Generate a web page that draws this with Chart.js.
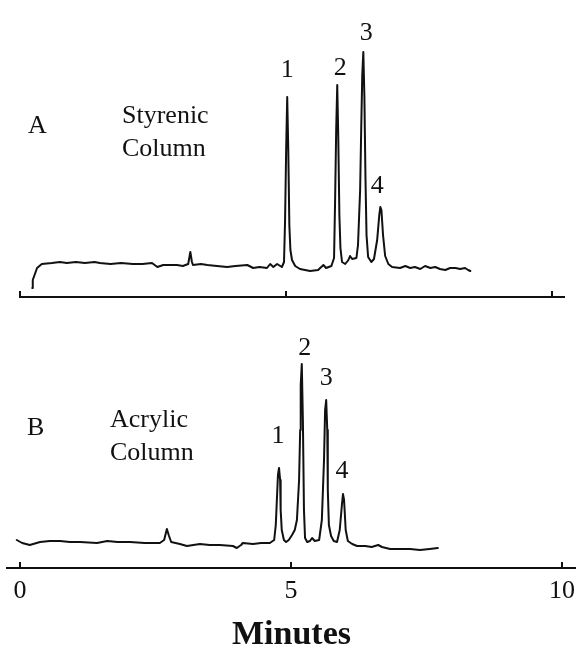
<!DOCTYPE html>
<html>
<head>
<meta charset="utf-8">
<script src="https://cdn.jsdelivr.net/npm/chart.js@4.4.1/dist/chart.umd.min.js"></script>
<style>
  body { margin: 0; background: #fff; }
  #wrap { position: relative; width: 576px; height: 658px; }
  canvas { position: absolute; left: 0; }
</style>
</head>
<body>
<div id="wrap">
  <canvas id="chartA" width="576" height="310" style="top:0"></canvas>
  <canvas id="chartB" width="576" height="348" style="top:310px"></canvas>
</div>
<script>
// retention time (min) / detector response (arb. units)
const timeA = [0.23, 0.24, 0.32, 0.41, 0.60, 0.75, 0.88, 1.05, 1.22, 1.40, 1.50, 1.70, 1.90, 2.12, 2.30, 2.48,
  2.58, 2.69, 2.95, 3.06, 3.16, 3.20, 3.23, 3.25, 3.40, 3.52, 3.70, 3.89, 4.05, 4.27, 4.38, 4.50, 4.64, 4.70,
  4.76, 4.83, 4.92, 4.96, 4.98, 5.00, 5.02, 5.04, 5.06, 5.08, 5.11, 5.17, 5.26, 5.45, 5.60, 5.70, 5.75, 5.85,
  5.90, 5.92, 5.94, 5.96, 5.98, 6.00, 6.02, 6.05, 6.11, 6.17, 6.20, 6.24, 6.32, 6.35, 6.39, 6.41, 6.43, 6.45,
  6.47, 6.49, 6.51, 6.54, 6.60, 6.65, 6.71, 6.75, 6.77, 6.79, 6.82, 6.86, 6.92, 6.99, 7.14, 7.24, 7.33, 7.42,
  7.52, 7.61, 7.71, 7.80, 7.89, 7.99, 8.08, 8.18, 8.27, 8.36, 8.42, 8.46];
const respA = [9, 17, 29, 33, 34, 35, 34, 35, 34, 35, 34, 33, 34, 33, 33, 34,
  30, 32, 32, 31, 33, 45, 35, 32, 33, 32, 31, 30, 31, 32, 29, 30, 29, 33,
  30, 33, 30, 35, 77, 147, 200, 147, 72, 47, 37, 31, 28, 26, 27, 32, 29, 31,
  39, 97, 167, 212, 157, 82, 49, 35, 33, 37, 41, 38, 39, 52, 107, 167, 222, 245,
  200, 120, 62, 40, 35, 38, 57, 82, 90, 87, 62, 41, 33, 30, 29, 31, 29, 30,
  28, 31, 29, 30, 28, 27, 29, 29, 28, 29, 27, 26];

const timeB = [-0.06, 0.04, 0.18, 0.37, 0.55, 0.74, 0.92, 1.11, 1.42, 1.61, 1.80, 2.03, 2.30, 2.58, 2.66, 2.71,
  2.75, 2.79, 2.95, 3.08, 3.32, 3.50, 3.69, 3.93, 4.00, 4.08, 4.11, 4.30, 4.45, 4.61, 4.69, 4.72, 4.74, 4.76,
  4.78, 4.80, 4.81, 4.83, 4.87, 4.91, 4.96, 5.02, 5.07, 5.11, 5.15, 5.17, 5.18, 5.20, 5.22, 5.24, 5.26, 5.30,
  5.35, 5.39, 5.44, 5.52, 5.57, 5.61, 5.63, 5.65, 5.67, 5.68, 5.70, 5.74, 5.79, 5.85, 5.90, 5.94, 5.96, 5.98,
  6.01, 6.05, 6.13, 6.22, 6.37, 6.49, 6.61, 6.68, 6.83, 7.01, 7.20, 7.38, 7.56, 7.71];
const respB = [28, 25, 23, 26, 27, 27, 26, 26, 25, 27, 26, 26, 25, 25, 28, 39,
  32, 26, 24, 22, 24, 23, 23, 22, 20, 23, 25, 24, 25, 25, 28, 43, 68, 93,
  100, 88, 58, 38, 28, 26, 28, 33, 38, 48, 88, 138, 183, 204, 148, 58, 30, 26,
  27, 30, 27, 28, 48, 108, 158, 168, 138, 78, 43, 32, 27, 26, 38, 63, 74, 68,
  38, 27, 24, 22, 22, 21, 23, 21, 19, 19, 19, 18, 19, 20];

const peakNames = ['1', '2', '3', '4'];
const peakTimesA = [5.02, 5.96, 6.45, 6.77];
const peakTimesB = [4.78, 5.20, 5.65, 5.96];
const tickValues = [0, 5, 10];

const serif = '"Liberation Serif", "Times New Roman", serif';

// peak numbers, panel captions and the short upward tick marks
const annotate = {
  id: 'annotate',
  afterDraw(chart, args, opts) {
    const { ctx, chartArea, scales: { x, y } } = chart;
    const pts = chart.data.datasets[0].data;
    ctx.save();
    ctx.fillStyle = '#111';
    ctx.font = '26px ' + serif;
    ctx.textAlign = 'center';
    opts.peaks.forEach((t, i) => {
      const top = pts.filter(p => Math.abs(p.x - t) < 0.04).reduce((a, b) => (b.y > a.y ? b : a));
      ctx.fillText(peakNames[i], x.getPixelForValue(top.x) + opts.dx[i], y.getPixelForValue(top.y) - opts.gap[i]);
    });
    ctx.textAlign = 'left';
    ctx.fillText(opts.panel, opts.panelAt[0], opts.panelAt[1]);
    opts.column.forEach((s, i) => ctx.fillText(s, opts.columnAt[0], opts.columnAt[1] + i * 33));

    ctx.strokeStyle = '#111';
    ctx.lineWidth = 2;
    tickValues.forEach(v => {
      const px = Math.round(x.getPixelForValue(v));
      ctx.beginPath();
      ctx.moveTo(px, chartArea.bottom);
      ctx.lineTo(px, chartArea.bottom - 6);
      ctx.stroke();
    });
    ctx.restore();
  }
};

function makeChart(id, times, resp, cfg) {
  return new Chart(document.getElementById(id), {
    type: 'line',
    data: {
      datasets: [{
        data: times.map((t, i) => ({ x: t, y: resp[i] })),
        borderColor: '#111',
        borderWidth: 2,
        borderJoinStyle: 'round',
        borderCapStyle: 'round',
        pointRadius: 0,
        tension: 0
      }]
    },
    options: {
      responsive: false,
      animation: false,
      devicePixelRatio: 1,
      layout: { padding: cfg.padding },
      plugins: {
        legend: { display: false },
        tooltip: { enabled: false },
        annotate: cfg.notes
      },
      scales: {
        x: {
          type: 'linear',
          min: cfg.xMin,
          max: cfg.xMax,
          afterBuildTicks: s => { s.ticks = tickValues.map(v => ({ value: v })); },
          afterFit: s => { s.paddingLeft = 0; s.paddingRight = 0; },
          grid: { display: false, drawTicks: false },
          border: { display: true, color: '#111', width: 2 },
          ticks: {
            display: cfg.showTicks,
            padding: 8,
            color: '#111',
            font: { family: serif, size: 26 },
            maxRotation: 0
          },
          title: {
            display: cfg.showTicks,
            text: 'Minutes',
            color: '#111',
            font: { family: serif, size: 34, weight: 'bold' },
            padding: { top: 0, bottom: 2 }
          }
        },
        y: { display: false, min: 0, max: cfg.yMax }
      }
    },
    plugins: [annotate]
  });
}

makeChart('chartA', timeA, respA, {
  padding: { left: 20, right: 12, top: 0, bottom: 13 },
  xMin: 0, xMax: 10.22, yMax: 297, showTicks: false,
  notes: {
    peaks: peakTimesA, dx: [0, 3, 3, -3], gap: [20, 10, 12, 14],
    panel: 'A', panelAt: [28, 133],
    column: ['Styrenic', 'Column'], columnAt: [122, 123]
  }
});

makeChart('chartB', timeB, respB, {
  padding: { left: 7, right: 0, top: 0, bottom: 0 },
  xMin: -0.24, xMax: 10.26, yMax: 258, showTicks: true,
  notes: {
    peaks: peakTimesB, dx: [-1, 3, 0, -1], gap: [25, 9, 15, 16],
    panel: 'B', panelAt: [27, 125],
    column: ['Acrylic', 'Column'], columnAt: [110, 117]
  }
});
</script>
</body>
</html>
